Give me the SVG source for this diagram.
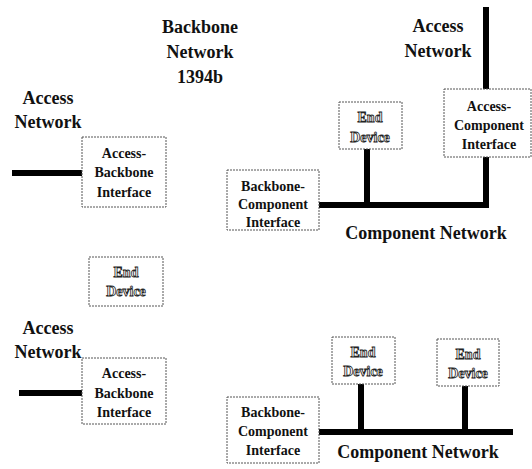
<svg xmlns="http://www.w3.org/2000/svg" width="532" height="469" viewBox="0 0 532 469">
  <style>
    .box { fill: #fff; stroke: #555; stroke-width: 1; stroke-dasharray: 2 1; }
    .bus { stroke: #000; stroke-width: 6; fill: none; }
    .title { font-family: "Liberation Serif", "Times New Roman", serif; font-weight: bold; font-size: 18px; fill: #111; text-anchor: middle; }
    .lbl { font-family: "Liberation Serif", "Times New Roman", serif; font-weight: bold; font-size: 14px; fill: #111; text-anchor: middle; }
    .dev { font-family: "Liberation Serif", "Times New Roman", serif; font-weight: bold; font-size: 14px; fill: #fff; stroke: #222; stroke-width: 0.8; text-anchor: middle; opacity: 0.99; }
  </style>
  <rect width="532" height="469" fill="#fff"/>

  <!-- network segments -->
  <g id="connectors">
    <line class="bus" x1="12" y1="173" x2="82" y2="173"/>
    <line class="bus" x1="319" y1="205" x2="489" y2="205"/>
    <line class="bus" x1="367" y1="149" x2="367" y2="205"/>
    <line class="bus" x1="486" y1="7" x2="486" y2="89"/>
    <line class="bus" x1="486" y1="157" x2="486" y2="208"/>
    <line class="bus" x1="19" y1="393" x2="82" y2="393"/>
    <line class="bus" x1="319" y1="432" x2="513" y2="432"/>
    <line class="bus" x1="361" y1="384" x2="361" y2="432"/>
    <line class="bus" x1="465" y1="386" x2="465" y2="432"/>
  </g>

  <!-- free-standing network labels -->
  <g id="labels">
    <text class="title" x="200" y="33">Backbone</text>
    <text class="title" x="200" y="58">Network</text>
    <text class="title" x="200" y="83">1394b</text>
    <text class="title" x="48" y="104">Access</text>
    <text class="title" x="48" y="128">Network</text>
    <text class="title" x="438" y="32">Access</text>
    <text class="title" x="438" y="57">Network</text>
    <text class="title" x="426" y="239">Component Network</text>
    <text class="title" x="48" y="334">Access</text>
    <text class="title" x="48" y="358">Network</text>
    <text class="title" x="418" y="458">Component Network</text>
  </g>

  <g id="access-backbone-1">
    <rect class="box" x="82" y="137" width="84" height="70"/>
    <text class="lbl" x="124" y="158">Access-</text>
    <text class="lbl" x="124" y="177">Backbone</text>
    <text class="lbl" x="124" y="197">Interface</text>
  </g>

  <g id="backbone-component-1">
    <rect class="box" x="227" y="170" width="92" height="60"/>
    <text class="lbl" x="273" y="191">Backbone-</text>
    <text class="lbl" x="273" y="209">Component</text>
    <text class="lbl" x="273" y="227">Interface</text>
  </g>

  <g id="end-device-1">
    <rect class="box" x="339" y="102" width="63" height="47"/>
    <text class="dev" x="370" y="122">End</text>
    <text class="dev" x="370" y="142">Device</text>
  </g>

  <g id="access-component">
    <rect class="box" x="444" y="89" width="87" height="68"/>
    <text class="lbl" x="489" y="111">Access-</text>
    <text class="lbl" x="489" y="130">Component</text>
    <text class="lbl" x="489" y="149">Interface</text>
  </g>

  <g id="end-device-2">
    <rect class="box" x="89" y="257" width="74" height="49"/>
    <text class="dev" x="126" y="277">End</text>
    <text class="dev" x="126" y="296">Device</text>
  </g>

  <g id="access-backbone-2">
    <rect class="box" x="82" y="358" width="84" height="66"/>
    <text class="lbl" x="124" y="378">Access-</text>
    <text class="lbl" x="124" y="398">Backbone</text>
    <text class="lbl" x="124" y="417">Interface</text>
  </g>

  <g id="backbone-component-2">
    <rect class="box" x="227" y="397" width="92" height="66"/>
    <text class="lbl" x="273" y="417">Backbone-</text>
    <text class="lbl" x="273" y="436">Component</text>
    <text class="lbl" x="273" y="455">Interface</text>
  </g>

  <g id="end-device-3">
    <rect class="box" x="332" y="337" width="63" height="47"/>
    <text class="dev" x="363" y="357">End</text>
    <text class="dev" x="363" y="376">Device</text>
  </g>

  <g id="end-device-4">
    <rect class="box" x="437" y="339" width="62" height="47"/>
    <text class="dev" x="468" y="359">End</text>
    <text class="dev" x="468" y="378">Device</text>
  </g>
</svg>
